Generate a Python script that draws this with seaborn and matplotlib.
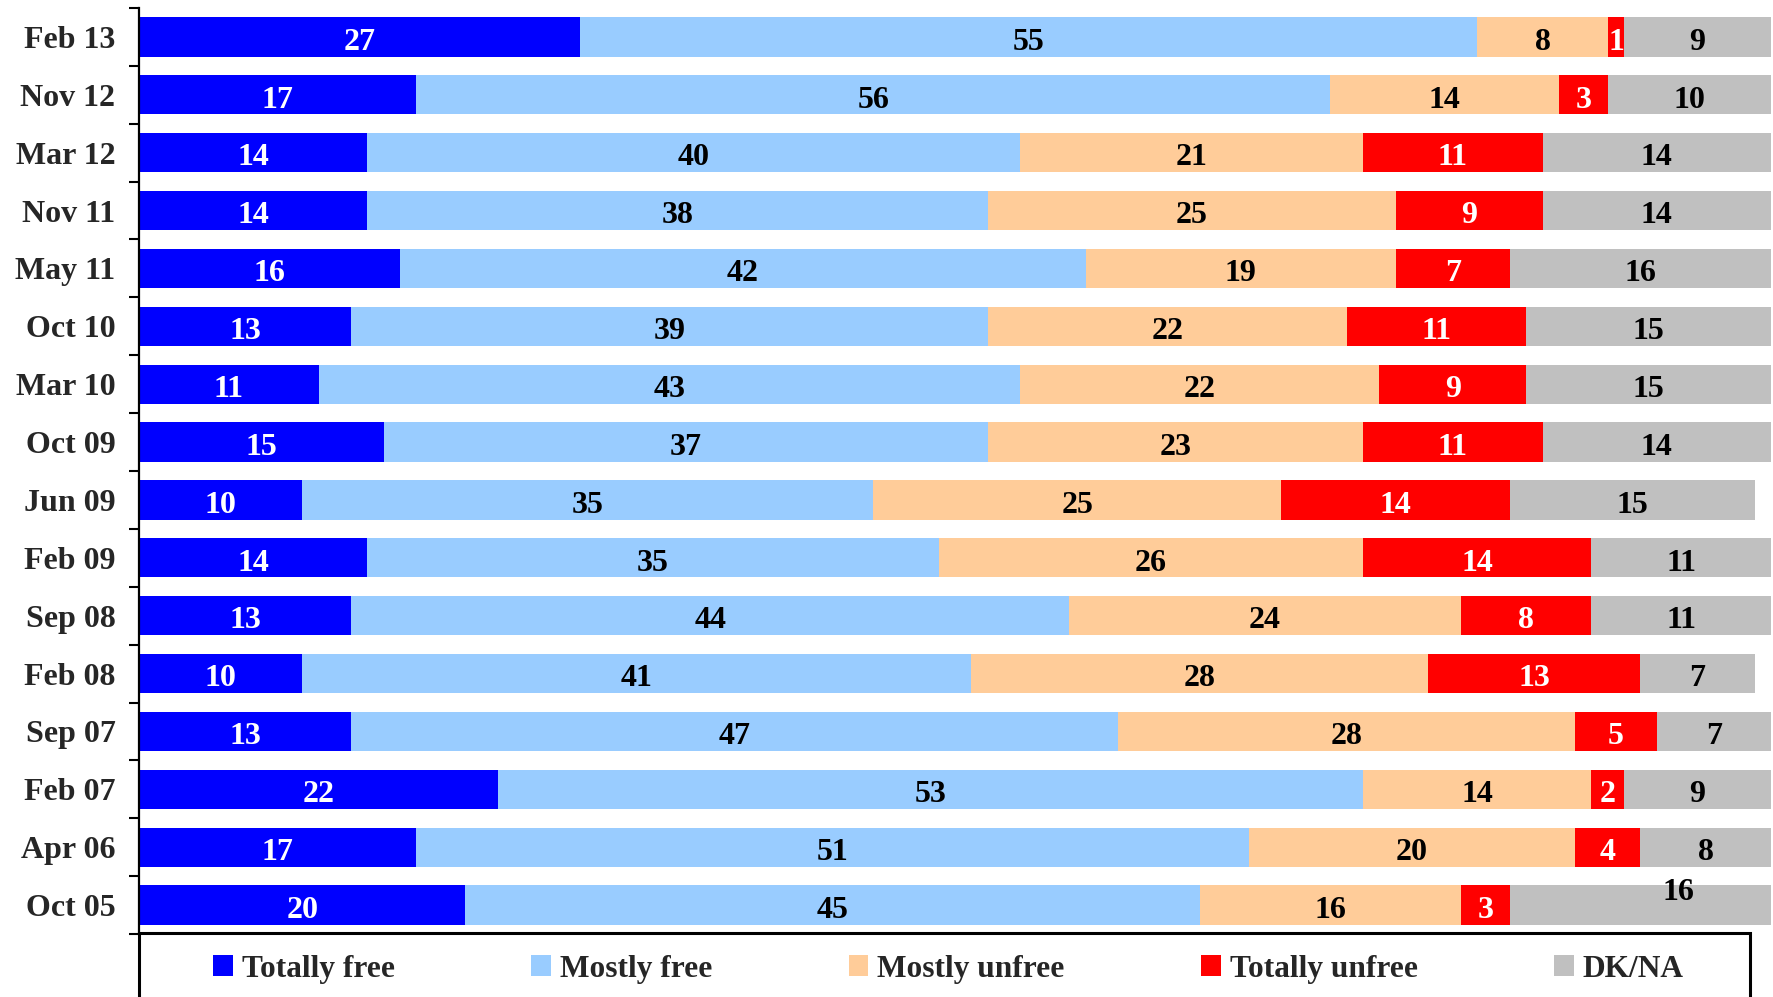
import numpy as np
import pandas as pd
import matplotlib
matplotlib.use("Agg")
import matplotlib.pyplot as plt
from matplotlib.patches import Patch, Rectangle
import seaborn as sns

# Survey waves, newest first
periods = ["Feb 13", "Nov 12", "Mar 12", "Nov 11", "May 11", "Oct 10", "Mar 10",
           "Oct 09", "Jun 09", "Feb 09", "Sep 08", "Feb 08", "Sep 07", "Feb 07",
           "Apr 06", "Oct 05"]

categories = ["Totally free", "Mostly free", "Mostly unfree", "Totally unfree", "DK/NA"]

totally_free = [27, 17, 14, 14, 16, 13, 11, 15, 10, 14, 13, 10, 13, 22, 17, 20]
mostly_free = [55, 56, 40, 38, 42, 39, 43, 37, 35, 35, 44, 41, 47, 53, 51, 45]
mostly_unfree = [8, 14, 21, 25, 19, 22, 22, 23, 25, 26, 24, 28, 28, 14, 20, 16]
totally_unfree = [1, 3, 11, 9, 7, 11, 9, 11, 14, 14, 8, 13, 5, 2, 4, 3]
dk_na = [9, 10, 14, 14, 16, 15, 15, 14, 15, 11, 11, 7, 7, 9, 8, 16]

colors = ["#0000FF", "#99CCFF", "#FFCC99", "#FF0000", "#C0C0C0"]
label_colors = ["white", "black", "black", "white", "black"]

series = [totally_free, mostly_free, mostly_unfree, totally_unfree, dk_na]

sns.set_style("white")
plt.rcParams["font.family"] = ["Liberation Serif", "DejaVu Serif"]
plt.rcParams["font.weight"] = "bold"

FS = 23

W, H = 1773, 997
fig = plt.figure(figsize=(W / 100, H / 100), dpi=100)
ax = fig.add_axes([139 / W, 1 - 934 / H, (1771 - 139) / W, (934 - 8) / H])

vals = np.array(series, dtype=float)          # shape (5, n)
cum = np.cumsum(vals, axis=0)
starts = cum - vals

df = pd.DataFrame({"period": periods})
for i, cat in enumerate(categories):
    df[cat] = cum[i]

# Stacked bars: draw cumulative totals from the outermost segment inward
for i in reversed(range(len(categories))):
    sns.barplot(data=df, x=categories[i], y="period", order=periods, orient="h",
                color=colors[i], saturation=1, width=0.68, ax=ax, linewidth=0)

# Value labels centred in each segment
label_shift = {(4, 15): (2.3, -0.3)}
for i in range(len(categories)):
    for j in range(len(periods)):
        v = vals[i, j]
        dx, dy = label_shift.get((i, j), (0, 0))
        ax.text(starts[i, j] + v / 2 + dx, j + dy + 0.09, f"{int(v)}",
                ha="center", va="center", fontsize=FS, fontweight="bold",
                color=label_colors[i])

ax.set_xlim(0, 100)
ax.set_ylim(len(periods) - 0.5, -0.5)
ax.set_xlabel("")
ax.set_ylabel("")
ax.xaxis.set_visible(False)
for s in ["top", "right", "bottom"]:
    ax.spines[s].set_visible(False)
ax.spines["left"].set_color("black")
ax.spines["left"].set_linewidth(1.6)

ax.set_yticks(range(len(periods)))
ax.set_yticklabels(periods, fontsize=FS, fontweight="bold")
ax.set_yticks(np.arange(-0.5, len(periods), 1.0), minor=True)
ax.tick_params(axis="y", which="major", length=0, pad=17)
ax.tick_params(axis="y", which="minor", length=7, width=1.5, color="black",
               direction="out", left=True)

# Legend frame below the bars
fig.patches.append(Rectangle((139 / W, -0.05), (1750 - 139) / W, (0.05 + 1 - 933 / H),
                             transform=fig.transFigure, fill=False,
                             edgecolor="black", linewidth=2.2, clip_on=False))

handles = [Patch(facecolor=c, edgecolor="none") for c in colors]
fig.legend(handles, categories, loc="center left",
           bbox_to_anchor=(213 / W, 1 - 969 / H), ncol=5, frameon=False,
           prop={"family": "Liberation Serif", "weight": "bold", "size": 22.6},
           handlelength=0.63, handleheight=0.63, handletextpad=0.28,
           columnspacing=4.35, borderpad=0, borderaxespad=0)

fig.savefig("out.png", dpi=100)
